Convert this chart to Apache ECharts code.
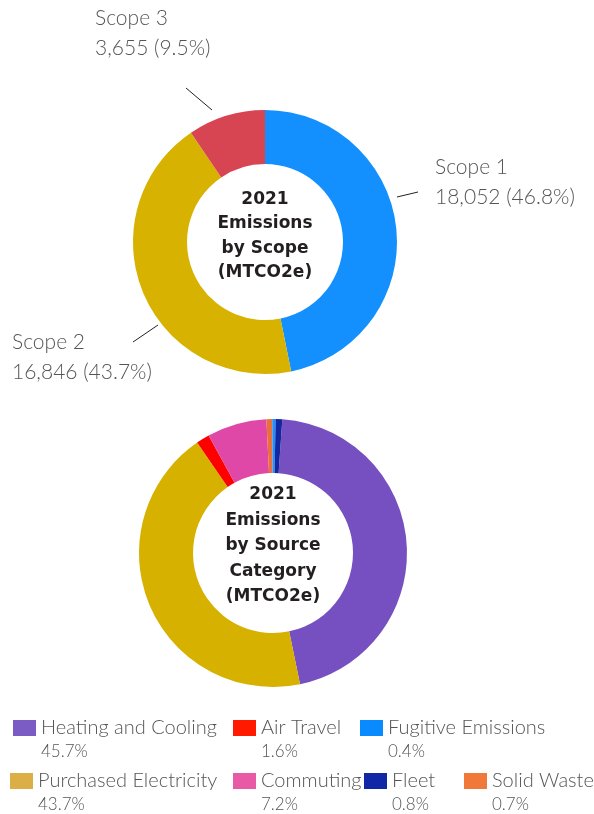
<!DOCTYPE html>
<html>
<head>
<meta charset="utf-8">
<title>2021 Emissions</title>
<script src="https://cdn.jsdelivr.net/npm/echarts@6/dist/echarts.min.js"></script>
<style>
    html, body { margin: 0; padding: 0; background: #fff; }
    #EmissionsChart { width: 594px; height: 814px; }
</style>
</head>
<body>
<div id="EmissionsChart"></div>
<script>
// emissions by scope (MTCO2e)
var scopeNames = ['Scope 1', 'Scope 2', 'Scope 3']
var scopeValues = [18052, 16846, 3655]
var scopeColors = ['#1390fe', '#d8b200', '#d84552']

// emissions by source category (% of total), clockwise order in the ring
var sourceNames = ['Heating and Cooling', 'Purchased Electricity', 'Air Travel', 'Commuting', 'Solid Waste', 'Fugitive Emissions', 'Fleet']
var sourceValues = [45.7, 43.7, 1.6, 7.2, 0.7, 0.4, 0.8]
var sourceColors = ['#7650c0', '#d6b100', '#ff0000', '#e048a8', '#e8703a', '#1e90ff', '#1427a0']
var legendColors = ['#7b5cc4', '#dcae46', '#ff1a00', '#e85aa6', '#f07838', '#0a8aff', '#1027a6']

var FONT = 'Lato, "Noto Sans", sans-serif'

// where the scope labels sit and the leader lines that point to them
var scopeLabelLayout = [
    { x: 435, y: 152, line: [[397, 197], [418, 192]] },   // Scope 1
    { x: 12, y: 327, line: [[158, 325], [133, 342]] },    // Scope 2
    { x: 95, y: 3, line: [[212, 110], [186, 88]] }        // Scope 3
]

// legend boxes: [name, left, top]
var legendSlots = [
    ['Heating and Cooling', 8, 713],
    ['Air Travel', 228, 713],
    ['Fugitive Emissions', 355, 713],
    ['Purchased Electricity', 5, 766],
    ['Commuting', 228, 766],
    ['Fleet', 359, 766],
    ['Solid Waste', 459, 766]
]

function drawEmissionsChart() {
    var chartDom = document.getElementById('EmissionsChart');
    var myChart = echarts.init(chartDom, null, { renderer: 'canvas' });
    var option;

    var scopeData = scopeNames.map(function (name, i) {
        return { name: name, value: scopeValues[i], itemStyle: { color: scopeColors[i] } }
    })
    var sourceData = sourceNames.map(function (name, i) {
        return { name: name, value: sourceValues[i], itemStyle: { color: sourceColors[i] } }
    })

    var legends = legendSlots.map(function (slot) {
        var idx = sourceNames.indexOf(slot[0])
        return {
            left: slot[1],
            top: slot[2],
            orient: 'horizontal',
            selectedMode: false,
            itemWidth: 23,
            itemHeight: 16,
            itemGap: 0,
            icon: 'rect',
            data: [{ name: slot[0], itemStyle: { color: legendColors[idx] } }],
            formatter: function (name) {
                var i = sourceNames.indexOf(name)
                return '{n|' + name + '}\n{p|' + sourceValues[i].toFixed(1) + '%}'
            },
            textStyle: {
                padding: [24, 0, 0, 0],
                rich: {
                    n: { fontFamily: FONT, fontWeight: 300, fontSize: 20, lineHeight: 24, color: '#555' },
                    p: { fontFamily: FONT, fontWeight: 300, fontSize: 17, lineHeight: 24, color: '#555' }
                }
            }
        }
    })

    option = {
        backgroundColor: '#fff',
        animation: false,
        title: [{
            text: '2021\nEmissions\nby Scope\n(MTCO2e)',
            left: 265,
            top: 187,
            padding: 0,
            textAlign: 'center',
            textStyle: { fontFamily: '"DejaVu Sans", sans-serif', fontWeight: 'bold', fontSize: 17, lineHeight: 24.5, color: '#231f20' }
        }, {
            text: '2021\nEmissions\nby Source\nCategory\n(MTCO2e)',
            left: 273,
            top: 482,
            padding: 0,
            textAlign: 'center',
            textStyle: { fontFamily: '"DejaVu Sans", sans-serif', fontWeight: 'bold', fontSize: 17, lineHeight: 25.5, color: '#231f20' }
        }],
        legend: legends,
        series: [{
            name: 'Emissions by Scope',
            type: 'pie',
            center: [265, 242],
            radius: [78, 132],
            startAngle: 90,
            clockwise: true,
            percentPrecision: 1,
            silent: true,
            data: scopeData,
            label: {
                show: true,
                position: 'outside',
                overflow: 'none',
                formatter: function (params) {
                    return '{a|' + params.name + '}\n{a|' + params.value.toLocaleString('en-US') + ' (' + params.percent.toFixed(1) + '%)}'
                },
                rich: {
                    a: { fontFamily: FONT, fontWeight: 300, fontSize: 21, lineHeight: 30, color: '#555' }
                }
            },
            labelLine: {
                show: true,
                smooth: false,
                lineStyle: { color: '#222', width: 1 }
            },
            labelLayout: function (params) {
                var p = scopeLabelLayout[params.dataIndex]
                return {
                    x: p.x,
                    y: p.y,
                    align: 'left',
                    verticalAlign: 'top',
                    labelLinePoints: p.line
                }
            }
        }, {
            name: 'Emissions by Source Category',
            type: 'pie',
            center: [273, 553],
            radius: [80, 134],
            startAngle: 86,
            clockwise: true,
            silent: true,
            data: sourceData,
            label: { show: false },
            labelLine: { show: false }
        }]
    };

    option && myChart.setOption(option);
}

drawEmissionsChart()
</script>
</body>
</html>
